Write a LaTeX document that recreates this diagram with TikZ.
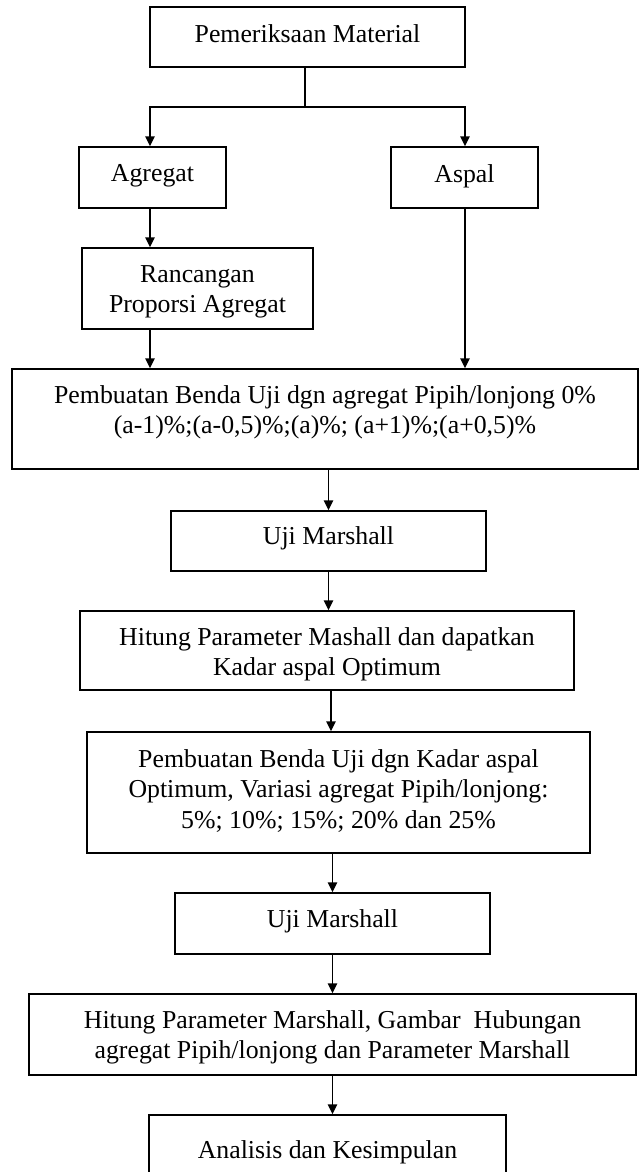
\documentclass[tikz,border=0pt]{standalone}
\usepackage{fontspec}
\setmainfont{Liberation Serif}
\usetikzlibrary{arrows.meta}
\begin{document}
\begin{tikzpicture}[x=1pt,y=-1pt,
  box/.style={draw, line width=1.5pt, rectangle, inner sep=0pt},
  txt/.style={font=\fontsize{25.8}{30.5}\selectfont, align=center, inner sep=0pt, anchor=north},
  arr/.style={line width=1.5pt, -{Triangle[length=10pt,width=9.5pt]}},
  ln/.style={line width=1.5pt}]
\useasboundingbox (0,0) rectangle (639,1172);
\clip (0,0) rectangle (639,1172);
\fill[white] (0,0) rectangle (639,1172);
% boxes
\node[box, minimum width=315pt, minimum height=60pt] (b1) at (307.5,37) {};
\node[box, minimum width=147pt, minimum height=61pt] (agr) at (152.5,177.5) {};
\node[box, minimum width=147pt, minimum height=61pt] (asp) at (464.5,177.5) {};
\node[box, minimum width=231pt, minimum height=81pt] (ran) at (197.5,288.5) {};
\node[box, minimum width=626pt, minimum height=100pt] (wide) at (325,419) {};
\node[box, minimum width=315pt, minimum height=60pt] (uji1) at (328.5,541) {};
\node[box, minimum width=494pt, minimum height=79pt] (hit1) at (327,650.5) {};
\node[box, minimum width=503pt, minimum height=121pt] (pem2) at (338.5,792.5) {};
\node[box, minimum width=315pt, minimum height=61pt] (uji2) at (332.5,923.5) {};
\node[box, minimum width=607pt, minimum height=81pt] (hit2) at (332.5,1034.5) {};
\node[box, minimum width=357pt, minimum height=70pt] (ana) at (327.5,1150) {};
% texts
\node[txt] (t1) at (307.5,24) {Pemeriksaan Material};
\node[txt] (tagr) at (152.5,164) {Agregat};
\node[txt] (tasp) at (464.5,164) {Aspal};
\node[txt] (tran) at (197.5,265) {Rancangan\\Proporsi Agregat};
\node[txt] (twide) at (325,385) {Pembuatan Benda Uji dgn agregat Pipih/lonjong 0\%\\(a-1)\%;(a-0,5)\%;(a)\%; (a+1)\%;(a+0,5)\%};
\node[txt] (tuji1) at (328.5,526) {Uji Marshall};
\node[txt] (thit1) at (327,627) {Hitung Parameter Mashall dan dapatkan\\Kadar aspal Optimum};
\node[txt] (tpem2) at (338.5,749) {Pembuatan Benda Uji dgn Kadar aspal\\Optimum, Variasi agregat Pipih/lonjong:\\5\%; 10\%; 15\%; 20\% dan 25\%};
\node[txt] (tuji2) at (332.5,909) {Uji Marshall};
\node[txt] (thit2) at (332.5,1010) {Hitung Parameter Marshall, Gambar\ \ Hubungan\\agregat Pipih/lonjong dan Parameter Marshall};
\node[txt] (tana) at (327.5,1140) {Analisis dan Kesimpulan};
% connector coordinates
\coordinate (j) at (305,107);
\coordinate (jl) at (150,107);
\coordinate (jr) at (465,107);
\coordinate (a3) at (331,0);
% connectors
\draw[ln] (b1.south -| j) -- (j);
\draw[arr] (j) -- (jl) -- (agr.north -| jl);
\draw[arr] (j) -- (jr) -- (asp.north -| jr);
\draw[arr] (agr.south -| jl) -- (ran.north -| jl);
\draw[arr] (ran.south -| jl) -- (wide.north -| jl);
\draw[arr] (asp.south -| jr) -- (wide.north -| jr);
\draw[arr] (wide.south -| uji1) -- (uji1.north);
\draw[arr] (uji1.south) -- (hit1.north -| uji1);
\draw[arr] (hit1.south -| a3) -- (pem2.north -| a3);
\draw[arr] (pem2.south -| uji2) -- (uji2.north);
\draw[arr] (uji2.south) -- (hit2.north -| uji2);
\draw[arr] (hit2.south -| uji2) -- (ana.north -| uji2);
\end{tikzpicture}
\end{document}
